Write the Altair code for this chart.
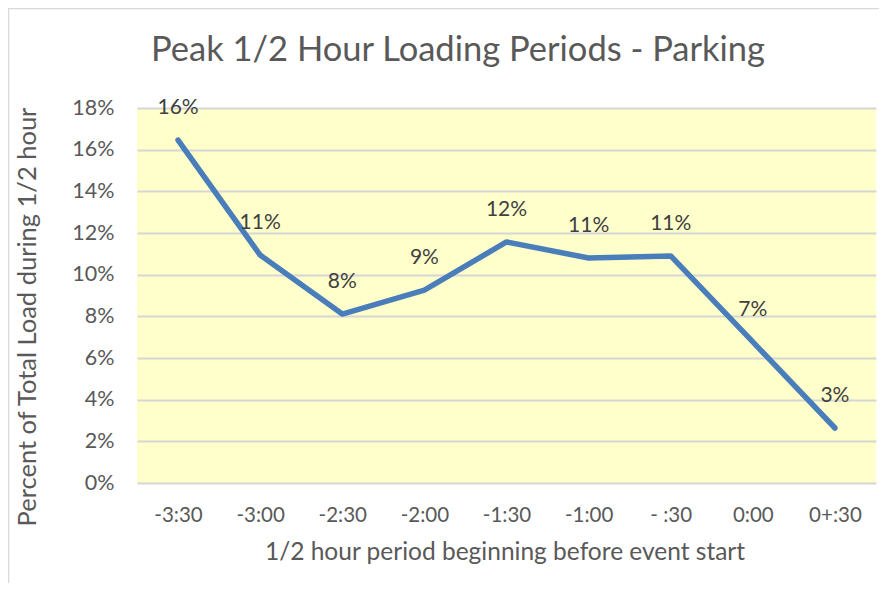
import altair as alt
import pandas as pd

periods = ["-3:30", "-3:00", "-2:30", "-2:00", "-1:30", "-1:00", "- :30", "0:00", "0+:30"]
load = [0.1646, 0.1094, 0.0811, 0.0926, 0.1157, 0.1080, 0.1090, 0.0677, 0.0264]
y_ticks = [0, 0.02, 0.04, 0.06, 0.08, 0.10, 0.12, 0.14, 0.16, 0.18]

title_text = "Peak 1/2 Hour Loading Periods - Parking"
x_title = "1/2 hour period beginning before event start"
y_title = "Percent of Total Load during 1/2 hour"

df = pd.DataFrame({"period": periods, "load": load})

W, H = 739, 375
FONT = "Lato"
GRAY = "#595959"

x_enc = alt.X(
    "period:N",
    sort=periods,
    scale=alt.Scale(type="point", padding=0.5),
    axis=alt.Axis(
        title=None, labelAngle=0, labelFontSize=20.5, labelColor=GRAY,
        labelPadding=22, ticks=False, domain=False, grid=False,
        labelFont=FONT,
    ),
)
y_enc = alt.Y(
    "load:Q",
    scale=alt.Scale(domain=[0, 0.18], nice=False),
    axis=alt.Axis(
        title=None, format=".0%", values=y_ticks, labelFontSize=21.5,
        labelColor=GRAY, labelPadding=23, ticks=False, domain=False,
        grid=True, gridColor="#D6D6D6", gridWidth=2, labelFont=FONT,
    ),
)

base = alt.Chart(df)
line = base.mark_line(color="#4A7EBB", strokeWidth=5.5, strokeCap="round", strokeJoin="round").encode(x=x_enc, y=y_enc)
labels = base.mark_text(dy=-32, fontSize=21, color="#404040", font=FONT).encode(
    x=alt.X("period:N", sort=periods), y="load:Q", text=alt.Text("load:Q", format=".0%")
)

title = alt.Chart(pd.DataFrame({"t": [title_text]})).mark_text(
    fontSize=34.5, color=GRAY, font=FONT, align="center", baseline="middle"
).encode(x=alt.value(321), y=alt.value(-57), text="t:N")

xtitle = alt.Chart(pd.DataFrame({"t": [x_title]})).mark_text(
    fontSize=24.5, color=GRAY, font=FONT, align="center", baseline="middle"
).encode(x=alt.value(368), y=alt.value(445), text="t:N")

ytitle = alt.Chart(pd.DataFrame({"t": [y_title]})).mark_text(
    fontSize=25.5, color=GRAY, font=FONT, align="center", baseline="middle", angle=270
).encode(x=alt.value(-109), y=alt.value(209), text="t:N")

border_df = pd.DataFrame({"k": [0]})
left_border = alt.Chart(border_df).mark_rule(color="#D9D9D9", strokeWidth=1.5).encode(
    x=alt.value(-128.5), y=alt.value(-100), y2=alt.value(H + 110)
)
top_border = alt.Chart(border_df).mark_rule(color="#D9D9D9", strokeWidth=1.5).encode(
    x=alt.value(-128.5), x2=alt.value(W + 20), y=alt.value(-99.5)
)

chart = alt.layer(line, labels, title, xtitle, ytitle, left_border, top_border).properties(
    width=W, height=H,
    autosize=alt.AutoSizeParams(type="none"),
    padding={"left": 129, "top": 100, "right": 3, "bottom": 100},
    background="white",
).configure_view(fill="#FFFFCC", stroke=None)

chart.save("out.html", embed_options={"renderer": "svg", "actions": False})
